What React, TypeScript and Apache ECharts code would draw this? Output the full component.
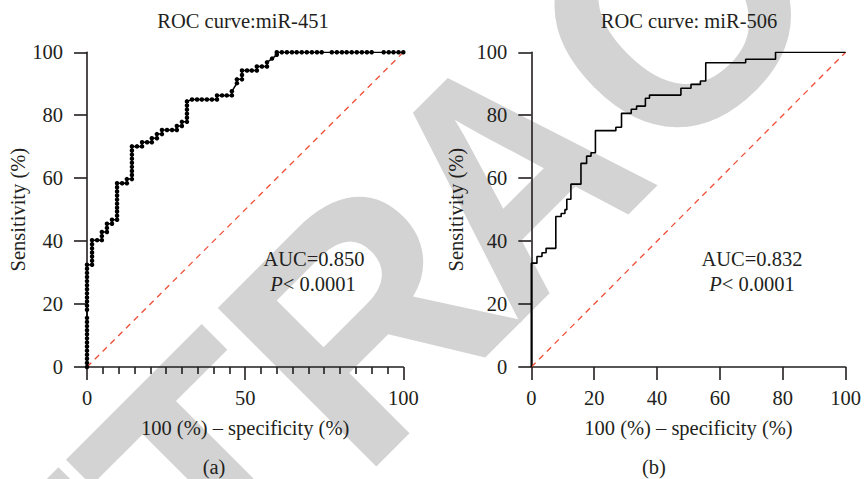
import React, { useEffect, useRef } from "react";
import * as echarts from "echarts";

// ---------- data ----------
const TITLE_A = "ROC curve:miR-451";
const TITLE_B = "ROC curve: miR-506";
const X_NAME = "100 (%) \u2013 specificity (%)";
const Y_NAME = "Sensitivity (%)";
const AUC_A = "AUC=0.850";
const AUC_B = "AUC=0.832";
const P_TEXT = "< 0.0001";
const PANEL_A = "(a)";
const PANEL_B = "(b)";
// visible letters of the diagonal "RETRACTED" watermark
const WATERMARK_LETTERS = ["E", "T", "R", "A", "C"];

// miR-451 ROC points [100 - specificity, sensitivity]
const roc451: [number, number][] = [
  [0, 0], [0, 1.3], [0, 2.6], [0, 3.9], [0, 5.2], [0, 6.5], [0, 7.8], [0, 9.1], [0, 10.4], [0, 11.7],
  [0, 13], [0, 14.3], [0, 15.6], [0, 18.2], [0, 19.5], [0, 20.8], [0, 22.1], [0, 23.4], [0, 24.7],
  [0, 26], [0, 27.3], [0, 28.6], [0, 29.9], [0, 31.2], [0, 32.5],
  [1.6, 32.5], [1.6, 33.8], [1.6, 35.1], [1.6, 36.4], [1.6, 37.7], [1.6, 39], [1.6, 40.3],
  [3.2, 40.3], [4.7, 40.3], [4.7, 41.6], [4.7, 42.9],
  [6.3, 42.9], [6.3, 44.2], [6.3, 45.5],
  [7.9, 45.5], [7.9, 46.8],
  [9.5, 46.8], [9.5, 48.1], [9.5, 49.4], [9.5, 50.6], [9.5, 51.9], [9.5, 53.2], [9.5, 54.5],
  [9.5, 55.8], [9.5, 57.1], [9.5, 58.4],
  [11.1, 58.4], [12.6, 58.4], [12.6, 59.7],
  [14.2, 59.7], [14.2, 61], [14.2, 62.3], [14.2, 63.6], [14.2, 64.9], [14.2, 66.2], [14.2, 67.5],
  [14.2, 68.8], [14.2, 70.1],
  [15.8, 70.1], [17.4, 70.1], [17.4, 71.4], [19, 71.4], [20.5, 71.4], [20.5, 72.7],
  [22.1, 72.7], [22.1, 74], [23.7, 74], [23.7, 75.3],
  [25.3, 75.3], [26.9, 75.3], [28.4, 75.3], [28.4, 76.6], [30, 76.6], [30, 77.9],
  [31.6, 77.9], [31.6, 79.2], [31.6, 80.5], [31.6, 81.8], [31.6, 83.1], [31.6, 84.4],
  [33.2, 85], [34.8, 85], [36.3, 85], [37.9, 85], [39.5, 85], [41.1, 85], [41.1, 86.3],
  [42.7, 86.3], [44.2, 86.3], [45.8, 86.3], [45.8, 87.6], [47.4, 90.2], [47.4, 91.4],
  [49, 91.4], [49, 92.8], [49, 94.2],
  [50.6, 94.2], [52.1, 94.2], [53.7, 94.2], [53.7, 95.5], [55.3, 95.5], [56.9, 95.5],
  [56.9, 96.8], [58.5, 98], [60, 99.2], [60, 100],
  [61.6, 100], [63.2, 100], [64.8, 100], [66.3, 100], [67.9, 100], [69.5, 100], [71.1, 100],
  [72.7, 100], [74.2, 100],
  [77.4, 100], [79, 100], [80.6, 100], [82.1, 100], [83.7, 100], [85.3, 100], [86.9, 100],
  [88.5, 100], [90, 100],
  [93.8, 100], [95.4, 100], [96.9, 100], [98.5, 100], [100, 100],
];

// miR-506 ROC step corners [100 - specificity, sensitivity]
const roc506: [number, number][] = [
  [0, 0], [0, 33], [1.8, 33], [1.8, 35.1], [3.4, 35.1], [3.4, 36.3], [4.7, 36.3], [4.7, 37.7],
  [7.8, 37.7], [7.8, 47.8], [9.5, 47.8], [9.5, 48.8], [10.7, 48.8], [10.7, 50], [11.3, 50],
  [11.3, 53.3], [12.6, 53.3], [12.6, 58.1], [15.8, 58.1], [15.8, 64.7], [17.6, 64.7],
  [17.6, 67], [19, 67], [19, 68.1], [20.4, 68.1], [20.4, 75.1], [26.9, 75.1], [26.9, 76.2],
  [28.7, 76.2], [28.7, 80.6], [31.8, 80.6], [31.8, 81.9], [33.5, 81.9], [33.5, 82.9],
  [36.3, 82.9], [36.3, 85.4], [37.6, 85.4], [37.6, 86.4], [47.6, 86.4], [47.6, 88.6],
  [50.8, 88.6], [50.8, 89.8], [53.8, 89.8], [53.8, 90.9], [55.5, 90.9], [55.5, 96.7],
  [68.2, 96.7], [68.2, 97.8], [77.7, 97.8], [77.7, 100], [100, 100],
];

const reference: [number, number][] = [[0, 0], [100, 100]];

const xTicksA = { min: 0, max: 100, interval: 50 };
const xTicksB = { min: 0, max: 100, interval: 20 };
const yTicks = { min: 0, max: 100, interval: 20 };

// ---------- styles ----------
const INK = "#231f20";
const SERIF = '"Liberation Serif", "Times New Roman", serif';
const FS = 20.5;
const WM_SIZE = 326;
const WM_ANGLE = Math.PI / 4;
// anchor (left, middle) and horizontal scale of each watermark letter, in page pixels
const WM_ANCHORS: [number, number, number][] = [
  [-3, 686, 1],
  [142, 541, 1],
  [281, 402, 1],
  [435, 248, 0.89],
  [585, 97, 1],
];

function makeXAxis(idx: number, ticks: { min: number; max: number; interval: number }, minor: boolean) {
  return {
    type: "value",
    gridIndex: idx,
    ...ticks,
    axisLine: { show: true, onZero: false, lineStyle: { color: INK, width: 1.6 } },
    axisTick: { show: true, length: 13, lineStyle: { color: INK, width: 1.6 } },
    minorTick: { show: minor, splitNumber: 10, length: 7, lineStyle: { color: INK, width: 1.6 } },
    splitLine: { show: false },
    minorSplitLine: { show: false },
    axisLabel: { margin: 20, fontFamily: SERIF, fontSize: FS, color: INK },
    name: X_NAME,
    nameLocation: "middle",
    nameGap: 50,
    nameTextStyle: { fontFamily: SERIF, fontSize: FS, color: INK },
  };
}

function makeYAxis(idx: number, gap: number) {
  return {
    type: "value",
    gridIndex: idx,
    ...yTicks,
    axisLine: { show: true, onZero: false, lineStyle: { color: INK, width: 1.6 } },
    axisTick: { show: true, length: 13, lineStyle: { color: INK, width: 1.6 } },
    splitLine: { show: false },
    axisLabel: { margin: 24, fontFamily: SERIF, fontSize: FS, color: INK },
    name: Y_NAME,
    nameLocation: "middle",
    nameGap: gap,
    nameTextStyle: { fontFamily: SERIF, fontSize: FS, color: INK },
  };
}

function txt(text: string, x: number, y: number, extra: any = {}) {
  return {
    type: "text",
    x,
    y,
    z: 100,
    style: {
      text,
      fill: INK,
      fontFamily: SERIF,
      fontSize: FS,
      align: "center",
      verticalAlign: "middle",
      textAlign: "center",
      textVerticalAlign: "middle",
      ...extra,
    },
  };
}

export default function App() {
  const ref = useRef<HTMLDivElement>(null);
  useEffect(() => {
    document.body.style.margin = "0";
    const chart = echarts.init(ref.current!, null, { renderer: "svg" });
    const watermark = WATERMARK_LETTERS.map((ch, i) => ({
      type: "text",
      x: WM_ANCHORS[i][0],
      y: WM_ANCHORS[i][1],
      scaleX: WM_ANCHORS[i][2],
      rotation: WM_ANGLE,
      z: -100,
      silent: true,
      style: {
        text: ch,
        fill: "#d3d3d3",
        fontFamily: '"Liberation Sans", Arial, sans-serif',
        fontWeight: "bold",
        fontSize: WM_SIZE,
        align: "left",
        verticalAlign: "middle",
        textAlign: "left",
        textVerticalAlign: "middle",
      },
    }));
    const pRich = { rich: { i: { fontStyle: "italic", fontFamily: SERIF, fontSize: FS, fill: INK } } };
    const option: any = {
      animation: false,
      backgroundColor: "#ffffff",
      grid: [
        { left: 87, top: 52.3, width: 316.3, height: 314.7 },
        { left: 531.3, top: 52.3, width: 316.4, height: 314.7 },
      ],
      xAxis: [makeXAxis(0, xTicksA, true), makeXAxis(1, xTicksB, false)],
      yAxis: [makeYAxis(0, 52), makeYAxis(1, 65)],
      series: [
        {
          type: "line",
          xAxisIndex: 0,
          yAxisIndex: 0,
          data: reference,
          symbol: "none",
          lineStyle: { color: "#f04e37", width: 1.3, type: [6, 5] },
          z: 3,
        },
        {
          type: "line",
          xAxisIndex: 0,
          yAxisIndex: 0,
          data: roc451,
          symbol: "circle",
          symbolSize: 4.5,
          showAllSymbol: true,
          itemStyle: { color: "#000" },
          lineStyle: { color: "#000", width: 1.5 },
          z: 4,
        },
        {
          type: "line",
          xAxisIndex: 1,
          yAxisIndex: 1,
          data: reference,
          symbol: "none",
          lineStyle: { color: "#f04e37", width: 1.3, type: [6, 5] },
          z: 3,
        },
        {
          type: "line",
          xAxisIndex: 1,
          yAxisIndex: 1,
          data: roc506,
          symbol: "none",
          lineStyle: { color: "#000", width: 1.6 },
          z: 4,
        },
      ],
      graphic: {
        elements: [
          ...watermark,
          txt(TITLE_A, 243, 21),
          txt(TITLE_B, 689, 21),
          txt(AUC_A, 314, 259),
          txt("{i|P}" + P_TEXT, 313, 284, pRich),
          txt(AUC_B, 752, 259),
          txt("{i|P}" + P_TEXT, 752, 284, pRich),
          txt(PANEL_A, 214, 467),
          txt(PANEL_B, 654, 467),
        ],
      },
    };
    chart.setOption(option);
    return () => chart.dispose();
  }, []);
  return (
    <div
      ref={ref}
      style={{ position: "fixed", left: 0, top: 0, width: 864, height: 479, background: "#fff" }}
    />
  );
}
